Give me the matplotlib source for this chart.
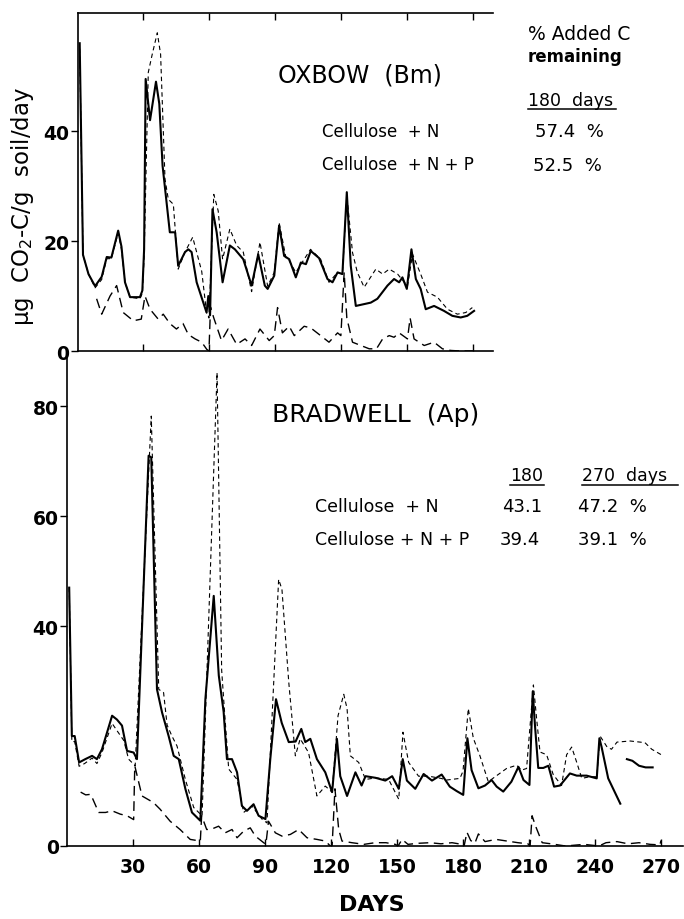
import numpy as np
import matplotlib
matplotlib.use("Agg")
import matplotlib.pyplot as plt
from matplotlib.lines import Line2D

nan = np.nan

# ---------------- OXBOW (Bm) : top panel ----------------
ox_n_days = [1, 2.5, 5, 8, 11, 13.3, 15.4, 18.5, 20, 21.6,
             23.9, 28.4, 29.5, 30.3, 31, 33, 35.7, 37.2, 38.7, 42,
             44.4, 45.8, 48.9, 50.4, 51.9, 54.2, 58.7, 59.5, 60.3, 61.4,
             63.3, 66, 69.3, 71.6, 75.4, 79.2, 82.2, 85.2, 86.5, 89.5,
             91.7, 94, 96.3, 99.3, 101.6, 103.9, 106.1, 109.9, 113.7, 116,
             118.3, 120.5, 122.5, 124.3, 126.6, 133.4, 136.4, 141, 144, 146.3,
             147.8, 149.8, 151.9, 153.9, 156.1, 158.4, 162.2, 166.7, 170.5, 174.3,
             177.3, 180.4]
ox_n_vals = [56, 17.5, 14, 11.8, 13.5, 17.1, 17, 21.9, 19, 12.5,
             9.8, 9.8, 11, 18.5, 49.5, 42, 49, 45, 33.7, 21.6,
             21.6, 15.5, 18, 18.5, 18, 12.5, 7, 10, 6.5, 25.8,
             21.6, 12.5, 19.2, 18.5, 16.7, 11.9, 17.6, 11.9, 11.3, 13.7,
             22.8, 17.3, 16.7, 13.4, 16.1, 15.8, 18.2, 16.9, 13.1, 12.5,
             14.3, 14, 28.9, 15.5, 8.2, 8.8, 9.5, 11.9, 13.1, 12.5,
             13.4, 11.3, 18.5, 13.1, 11.3, 7.6, 8.2, 7.3, 6.4, 6.1,
             6.4, 7.3]

ox_np_days = [1, 2.5, 5, 8, 11, 13.3, 15.4, 18.5, 20, 21.6,
              23.9, 28.4, 29.5, 30.3, 32.2, 34, 36.3, 37.8, 39.8, 41.3,
              43.6, 45.8, 48.9, 52.4, 56.5, 58.7, 59.8, 62, 64, 66,
              69.3, 72.4, 75.4, 79.2, 83, 86.5, 89.5, 91.7, 94.8, 96.3,
              99.3, 106, 110.6, 114.4, 118.3, 120.5, 122.5, 125.1, 127.3, 130.4,
              135.7, 138.8, 141.8, 145.6, 150.1, 152.4, 156.1, 159.2, 163.7, 168.3,
              172.8, 176.6, 179.6]
ox_np_vals = [55, 17.5, 14, 11.5, 13, 16.8, 16.8, 21.5, 18.5, 12.5,
              9.8, 9.5, 10.5, 17, 50.7, 54, 57.9, 54, 31.3, 27.6,
              26.7, 14.9, 18, 20.7, 14.5, 7, 6, 28.5, 25.5, 16.7,
              22.2, 19.2, 18, 10.8, 19.8, 11.8, 14.3, 23.4, 17, 16.4,
              14.3, 18.5, 16.7, 12.5, 14.3, 14, 28.3, 17.9, 14.3, 11.6,
              14.9, 14, 14.9, 14, 11.8, 17.6, 14, 10.7, 9.8, 7.6,
              6.7, 7, 7.9]

ox_ctl_days = [8.7, 11, 14.8, 17.8, 20.8, 25.4, 29, 30.7, 33, 36.7,
               39, 42, 45, 48, 50.4, 53.5, 56.5, 58.8, 59.8, 60.5,
               62, 65.5, 68.5, 72.4, 76.2, 79.2, 83, 87.2, 89.5, 91,
               93.2, 96.3, 98.6, 103.1, 106.1, 110.6, 114.4, 118.3, 119.8, 121.3,
               122.5, 125.1, 128.9, 132.7, 136, 138.8, 141.8, 144, 146.3, 150.1,
               151.3, 153.1, 157.7, 162.2, 166, 169.8, 174.3, 180]
ox_ctl_vals = [9.5, 6.7, 10, 11.9, 7, 5.5, 5.8, 10, 7.6, 5.8,
               6.7, 5, 4, 5, 3, 2.2, 1.6, 0.3, 0, 8,
               6, 1.9, 4, 1.2, 2.2, 1, 4, 1.9, 2.8, 7.9,
               3.3, 4.5, 2.8, 4.5, 4.2, 2.8, 1.6, 3.3, 2.8, 14.3,
               6, 1.6, 1, 0.4, 0.4, 2.2, 2.8, 2.5, 3.3, 2.2,
               6, 2.2, 1, 1.6, 0.4, 0.1, 0, 0]

# ---------------- BRADWELL (Ap) : bottom panel ----------------
br_n_days = [1, 2.2, 3.5, 5.5, 8.3, 11.4, 13.6, 15.9, 20.5, 22.7,
             25, 27.3, 30.3, 31.8, 37.1, 38.3, 40.9, 43.2, 46.2, 48.5,
             50.8, 53.8, 56.8, 60.6, 62.9, 66.7, 69, 71.2, 72.7, 75,
             77.3, 79.5, 81.8, 84.8, 87.1, 90.2, 92.4, 95, 97.6, 100.8,
             103.9, 106.5, 108.3, 110.6, 113.6, 117.4, 120.5, 122.7, 124.2, 127.3,
             131.1, 133.9, 135.7, 140.3, 144.7, 147.8, 150.8, 152.6, 154.5, 158.3,
             162.1, 165.9, 170.3, 174, 177.1, 180.1, 182, 183.9, 187, 190,
             193, 195.3, 198.3, 202, 205.2, 207.5, 210.2, 211.7, 212.7, 214.2,
             216.5, 218.8, 221.4, 224.1, 228.6, 231.7, 236.2, 240.8, 242, 243,
             246, 251.5, 253, 254.5, 257, 260, 263, 266.2]
br_n_vals = [47, 20, 20, 15.2, 15.8, 16.4, 15.8, 17.6, 23.7, 23,
             21.9, 17.3, 17, 15.8, 71, 70.7, 28.5, 24.3, 20, 16.4,
             15.8, 10.4, 6.1, 4.6, 26.7, 45.5, 31, 24.4, 15.8, 15.8,
             13.4, 7.3, 6.4, 7.6, 5.5, 4.9, 15.8, 26.7, 22.4, 18.9,
             19, 21.3, 18.9, 19.5, 15.8, 13.4, 9.8, 19.5, 12.7, 9.1,
             13.4, 11, 12.7, 12.4, 11.9, 12.7, 10.4, 15.8, 11.9, 10.4,
             13.1, 11.9, 13, 10.8, 10, 9.3, 19.6, 13.8, 10.5, 11,
             12, 10.8, 9.9, 11.7, 14.4, 12, 11.1, 28.1, 22, 14.2,
             14.2, 14.6, 10.8, 11, 13.2, 12.8, 12.8, 12.3, 19.6, 18,
             12.3, 7.7, nan, 15.8, 15.5, 14.6, 14.3, 14.3]

br_np_days = [1, 2.2, 3.5, 5.5, 8, 11.4, 13.6, 15.9, 20.5, 22.7,
              25.8, 28, 31, 38.3, 41.7, 43.9, 45.5, 47.7, 50, 53.8,
              57.6, 61.4, 68.2, 70.3, 71.5, 73.5, 77.3, 80.3, 84, 88.6,
              90.9, 96.2, 97.7, 100.8, 103.8, 106, 109.8, 113.6, 117.4, 120.5,
              123.2, 125.8, 127.3, 128.8, 132.6, 135.7, 140.3, 146.2, 150.8, 152.7,
              155.3, 159.8, 164.4, 170, 172.6, 178.6, 180, 182.4, 184.7, 187.7,
              191.5, 195.3, 199.8, 204.4, 206.6, 208.9, 212, 213.5, 215, 218,
              221, 224.8, 227.1, 229.4, 231.7, 234, 237.7, 240.8, 242.3, 245.5,
              247.5, 250, 256, 262.7, 265.8, 271]
br_np_vals = [47, 19, 19, 14.5, 15, 16, 15, 17, 22.3, 21,
              19.2, 15.8, 14.6, 78.2, 28.5, 27.9, 22, 20, 18.2, 12.1,
              7, 5.5, 86.1, 32, 25, 14, 12.1, 6.1, 7.3, 4.9,
              4.2, 48.5, 46.7, 29.8, 16.4, 19.5, 17, 9.1, 10.9, 9.8,
              23.7, 27.6, 25, 16.4, 15.2, 12.1, 12.4, 12.1, 8.5, 20.7,
              15.2, 12.7, 12.7, 12.3, 12, 12.3, 13.6, 25, 19.6, 16.4,
              11.7, 12.8, 14.1, 14.7, 13.8, 14.1, 29.3, 23, 17.1, 16.6,
              13, 11, 16.6, 18, 15.2, 12.3, 12.6, 12.6, 20, 18,
              17.6, 18.9, 19.1, 18.8, 17.6, 16.4]

br_ctl_days = [6.2, 8.5, 10.8, 14.4, 17.5, 20.5, 24.2, 27.3, 30.3, 30.8,
               34.1, 39.3, 42.3, 46.9, 51.4, 56, 60.6, 61.2, 63.5, 65.9,
               68.9, 71.9, 75, 77.3, 80.3, 83.3, 85.6, 89.4, 90.4, 91.6,
               94.7, 97.7, 101.5, 105.3, 109.1, 113.6, 117.4, 119.7, 120.5, 121.8,
               123.5, 125, 129.5, 135, 140, 145, 149.2, 150.5, 152.3, 155,
               160, 165, 170, 175, 179.5, 180.5, 181.8, 183.5, 185.4, 187,
               190, 195, 200, 205, 209.5, 210.5, 211.4, 213, 216, 220,
               226.6, 235, 241.8, 245, 250, 255, 260, 265, 269.5, 270]
br_ctl_vals = [9.8, 9.3, 9.4, 6.1, 6.1, 6.4, 5.8, 5.5, 4.8, 14.6,
               9.1, 7.9, 6.7, 4.5, 3, 1.2, 0.9, 5.5, 3, 3.1,
               3.6, 2.4, 3, 1.5, 2.7, 3.3, 1.8, 0.6, 0.3, 4.5,
               2.4, 1.8, 2.1, 3, 1.5, 1.2, 0.9, 0, 0, 10.4,
               3, 0.9, 0.6, 0.3, 0.6, 0.6, 0.3, 0, 1.2, 0.3,
               0.5, 0.6, 0.4, 0.6, 0.3, 0, 2.5, 1, 0.5, 2.2,
               0.8, 1.2, 0.9, 0.6, 0.4, 0, 5.5, 3.6, 0.6, 0.4,
               0, 0.3, 0, 0.6, 0.8, 0.4, 0.6, 0.3, 0.2, 1]

day_ticks_top = [30, 60, 90, 120, 150, 180]
day_ticks_bottom = [30, 60, 90, 120, 150, 180, 210, 240, 270]
y_ticks_top = [0, 20, 40]
y_ticks_bottom = [0, 40, 60, 80]

# ---------------- figure ----------------
W, H = 684, 920
fig = plt.figure(figsize=(6.84, 9.2), dpi=100)
plt.rcParams['font.family'] = ['DejaVu Sans']


def fx(px):
    return px / W


def fy(py):
    return 1 - py / H


sty_n = dict(color='black', lw=1.5, ls='-')
sty_np = dict(color='black', lw=0.8, ls=(0, (4, 3)))
sty_ctl = dict(color='black', lw=1.0, ls=(0, (7, 4)))

# bottom panel
axb = fig.add_axes([fx(67), fy(847), (683 - 67) / W, (847 - 355) / H])
axb.plot(br_ctl_days, br_ctl_vals, **sty_ctl)
axb.plot(br_np_days, br_np_vals, **sty_np)
axb.plot(br_n_days, br_n_vals, **sty_n)
axb.set_xlim(0, 280)
axb.set_ylim(0, 89.5)
axb.set_xticks(day_ticks_bottom)
axb.set_xticklabels([str(d) for d in day_ticks_bottom])
axb.set_yticks(y_ticks_bottom)
axb.set_yticklabels([str(v) for v in y_ticks_bottom])
axb.tick_params(axis='x', direction='in', length=5, width=1, pad=8, labelsize=13.5)
axb.tick_params(axis='y', direction='out', length=5, width=1, pad=1, labelsize=13.5)
for lab in axb.get_xticklabels() + axb.get_yticklabels():
    lab.set_fontweight('bold')
axb.spines['top'].set_visible(False)
axb.spines['right'].set_visible(False)
for s in ('left', 'bottom'):
    axb.spines[s].set_linewidth(1.2)
axb.patch.set_alpha(0)

# top panel
axt = fig.add_axes([fx(77.5), fy(352), (493 - 77.5) / W, (352 - 14) / H])
axt.plot(ox_ctl_days, ox_ctl_vals, **sty_ctl)
axt.plot(ox_np_days, ox_np_vals, **sty_np)
axt.plot(ox_n_days, ox_n_vals, **sty_n)
axt.set_xlim(0, 189)
axt.set_ylim(0, 61.5)
axt.set_xticks(day_ticks_top)
axt.set_xticklabels([])
axt.set_yticks(y_ticks_top)
axt.set_yticklabels([str(v) for v in y_ticks_top])
axt.tick_params(axis='x', direction='in', length=5, width=1, top=True)
axt.tick_params(axis='y', direction='out', length=5, width=1, pad=1, labelsize=13.5)
for lab in axt.get_yticklabels():
    lab.set_fontweight('bold')
axt.spines['right'].set_visible(False)
for s in ('left', 'bottom', 'top'):
    axt.spines[s].set_linewidth(1.2)
axt.patch.set_alpha(0)

# axis labels
fig.text(fx(372), fy(905), 'DAYS', ha='center', va='center',
         fontsize=16, fontweight='bold')
fig.text(fx(23), fy(206), r'µg  CO$_2$-C/g  soil/day', rotation=90,
         ha='center', va='center', fontsize=16.5)

# titles
fig.text(fx(278), fy(76), 'OXBOW  (Bm)', ha='left', va='center', fontsize=17)
fig.text(fx(272), fy(415), 'BRADWELL  (Ap)', ha='left', va='center', fontsize=18)


def underline(x0, x1, py):
    fig.add_artist(Line2D([fx(x0), fx(x1)], [fy(py), fy(py)],
                          transform=fig.transFigure, color='black', lw=1.1))


# top annotations
fig.text(fx(528), fy(34), '% Added C', ha='left', va='center', fontsize=13.5)
fig.text(fx(528), fy(57), 'remaining', ha='left', va='center', fontsize=12,
         fontweight='bold')
fig.text(fx(528), fy(101), '180  days', ha='left', va='center', fontsize=12.5)
underline(528, 616, 110)
fig.text(fx(322), fy(132), 'Cellulose  + N', ha='left', va='center', fontsize=12)
fig.text(fx(322), fy(165), 'Cellulose  + N + P', ha='left', va='center', fontsize=12)
fig.text(fx(535), fy(132), '57.4  %', ha='left', va='center', fontsize=13)
fig.text(fx(533), fy(166), '52.5  %', ha='left', va='center', fontsize=13)

# bottom annotations
fig.text(fx(510), fy(476), '180', ha='left', va='center', fontsize=12.5)
underline(510, 544, 486)
fig.text(fx(582), fy(476), '270  days', ha='left', va='center', fontsize=12.5)
underline(582, 678, 486)
fig.text(fx(315), fy(507), 'Cellulose  + N', ha='left', va='center', fontsize=12.5)
fig.text(fx(315), fy(540), 'Cellulose + N + P', ha='left', va='center', fontsize=12.5)
fig.text(fx(502), fy(507), '43.1', ha='left', va='center', fontsize=13)
fig.text(fx(578), fy(507), '47.2  %', ha='left', va='center', fontsize=13)
fig.text(fx(500), fy(540), '39.4', ha='left', va='center', fontsize=13)
fig.text(fx(578), fy(540), '39.1  %', ha='left', va='center', fontsize=13)

fig.savefig('out.png', dpi=100)
